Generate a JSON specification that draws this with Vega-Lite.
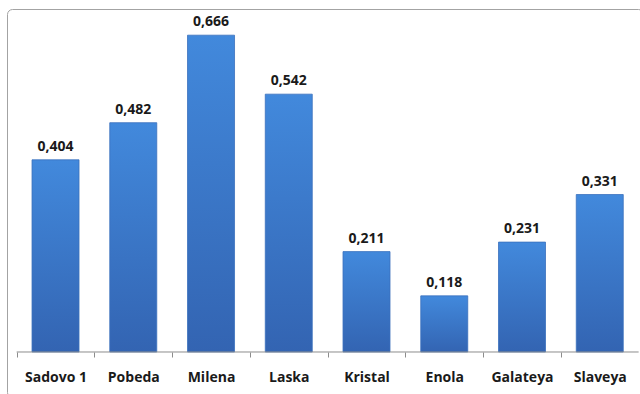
{
  "$schema": "https://vega.github.io/schema/vega-lite/v6.json",
  "width": 636,
  "height": 388,
  "autosize": {"type": "none"},
  "padding": {"left": 7, "top": 9, "right": -3, "bottom": -3},
  "background": "white",
  "config": {
    "view": {"stroke": "#a3a3a3", "strokeWidth": 1, "cornerRadius": 5},
    "locale": {"number": {"decimal": ",", "thousands": " ", "grouping": [3], "currency": ["", ""]}}
  },
  "data": {
    "values": [
      {"variety": "Sadovo 1", "value": 0.404},
      {"variety": "Pobeda", "value": 0.482},
      {"variety": "Milena", "value": 0.666},
      {"variety": "Laska", "value": 0.542},
      {"variety": "Kristal", "value": 0.211},
      {"variety": "Enola", "value": 0.118},
      {"variety": "Galateya", "value": 0.231},
      {"variety": "Slaveya", "value": 0.331}
    ]
  },
  "layer": [
    {
      "mark": {
        "type": "bar",
        "fill": {
          "gradient": "linear",
          "x1": 0, "y1": 0, "x2": 0, "y2": 1,
          "stops": [
            {"offset": 0, "color": "#4289dc"},
            {"offset": 1, "color": "#3364b2"}
          ]
        },
        "stroke": "#3a70bd",
        "strokeWidth": 0.8
      },
      "encoding": {
        "x": {
          "field": "variety",
          "type": "nominal",
          "sort": null,
          "scale": {
            "domain": ["Sadovo 1", "Pobeda", "Milena", "Laska", "Kristal", "Enola", "Galateya", "Slaveya"],
            "paddingInner": 0.3955,
            "paddingOuter": 0.2878,
            "align": 0.559
          },
          "axis": {
            "title": null,
            "offset": -45,
            "domain": false,
            "labelAngle": 0,
            "labelFont": "Open Sans",
            "labelFontWeight": "bold",
            "labelFontSize": 14,
            "labelColor": "#1a1a1a",
            "labelPadding": 13,
            "tickSize": 5,
            "tickColor": "#8c8c8c",
            "tickOffset": -38.875,
            "labelOffset": 38.875
          }
        },
        "y": {
          "field": "value",
          "type": "quantitative",
          "scale": {"domain": [-0.09460, 0.72102], "nice": false, "zero": false},
          "axis": null
        }
      }
    },
    {
      "mark": {
        "type": "text",
        "baseline": "bottom",
        "dy": -6,
        "font": "Open Sans",
        "fontWeight": "bold",
        "fontSize": 14,
        "color": "#1a1a1a"
      },
      "encoding": {
        "x": {"field": "variety", "type": "nominal", "sort": null},
        "y": {"field": "value", "type": "quantitative"},
        "text": {"field": "value", "type": "quantitative", "format": ".3f"}
      }
    },
    {
      "data": {"values": [{"from": "Sadovo 1", "to": "Slaveya", "base": 0}]},
      "mark": {"type": "rule", "color": "#8c8c8c", "strokeWidth": 1, "xOffset": -38.875, "x2Offset": 38.875},
      "encoding": {
        "x": {"field": "from", "type": "nominal"},
        "x2": {"field": "to"},
        "y": {"field": "base", "type": "quantitative"}
      }
    }
  ]
}
